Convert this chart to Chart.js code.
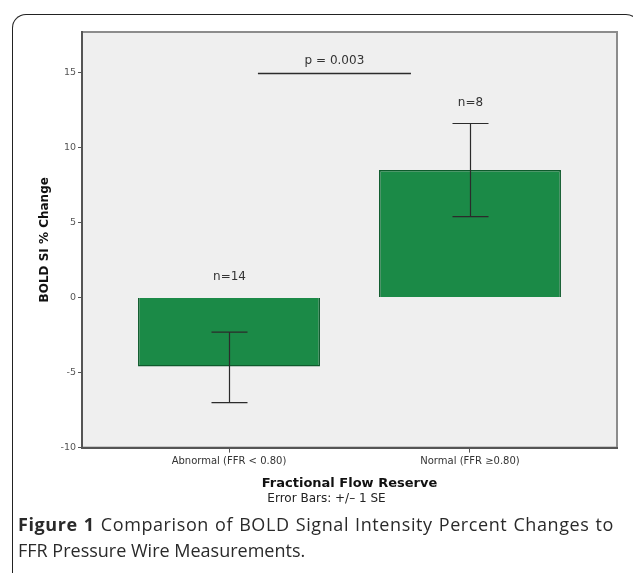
<!DOCTYPE html>
<html>
<head>
<meta charset="utf-8">
<script src="https://cdn.jsdelivr.net/npm/chart.js@4.4.0/dist/chart.umd.min.js"></script>
<style>
  html, body { margin: 0; padding: 0; background: #fff; }
  body { width: 633px; height: 573px; position: relative; overflow: hidden; }
  #cadre { position: absolute; left: 12px; top: 14px; width: 626px; height: 600px;
           border-left: 1px solid #222; border-top: 1px solid #222; border-right: 1px solid #222;
           border-radius: 14px 14px 0 0; }
  #zone { position: absolute; left: 0; top: 0; }
  #legende { position: absolute; left: 18px; top: 511px; width: 596px;
             font-family: "Open Sans"; font-size: 18px; line-height: 26px; color: #2a2a2a; }
  #legende .l1 { text-align: justify; text-align-last: justify; white-space: nowrap; letter-spacing: 0.6px; }
</style>
</head>
<body>
<div id="cadre"></div>
<canvas id="zone" width="633" height="512"></canvas>
<div id="legende">
  <div class="l1"><b>Figure 1</b> Comparison of BOLD Signal Intensity Percent Changes to</div>
  <div>FFR Pressure Wire Measurements.</div>
</div>
<script>
const categories = ['Abnormal (FFR < 0.80)', 'Normal (FFR \u22650.80)'];
const positions = [1, 2];
const means = [-4.6, 8.5];
const errLow = [-7.0, 5.4];
const errHigh = [-2.3, 11.6];
const counts = ['n=14', 'n=8'];
const yTicks = [-10, -5, 0, 5, 10, 15];
const pText = 'p = 0.003';
const pSpan = [1.12, 1.755];
const pLevel = 15;

const police = 'DejaVu Sans';

// fond gris, barres d'erreur, étiquettes n= et ligne du p
const decor = {
    id: 'decor',
    beforeDraw(chart) {
        const { ctx, chartArea: a } = chart;
        ctx.save();
        ctx.fillStyle = '#efefef';
        ctx.fillRect(a.left, a.top, a.right - a.left, a.bottom - a.top);
        ctx.strokeStyle = '#8c8c8c';
        ctx.lineWidth = 2;
        ctx.strokeRect(a.left, a.top, a.right - a.left, a.bottom - a.top);
        ctx.restore();
    },
    afterDatasetsDraw(chart) {
        const { ctx, scales: { x, y } } = chart;
        ctx.save();
        ctx.strokeStyle = '#2b2b2b';
        ctx.lineWidth = 1.2;
        ctx.font = '12px "' + police + '"';
        ctx.textAlign = 'center';
        ctx.textBaseline = 'middle';
        positions.forEach((p, i) => {
            const cx = Math.round(x.getPixelForValue(p)) + 0.5;
            const lo = y.getPixelForValue(errLow[i]);
            const hi = y.getPixelForValue(errHigh[i]);
            ctx.beginPath();
            ctx.moveTo(cx, lo); ctx.lineTo(cx, hi);
            ctx.moveTo(cx - 18, lo); ctx.lineTo(cx + 18, lo);
            ctx.moveTo(cx - 18, hi); ctx.lineTo(cx + 18, hi);
            ctx.stroke();

            const haut = Math.min(y.getPixelForValue(0), y.getPixelForValue(means[i]), hi);
            ctx.fillStyle = '#333';
            ctx.fillText(counts[i], cx, haut - 21);
        });

        const x1 = x.getPixelForValue(pSpan[0]);
        const x2 = x.getPixelForValue(pSpan[1]);
        const py = Math.round(y.getPixelForValue(pLevel)) + 0.5;
        ctx.lineWidth = 1.5;
        ctx.beginPath();
        ctx.moveTo(x1, py); ctx.lineTo(x2, py);
        ctx.stroke();
        ctx.fillStyle = '#333';
        ctx.fillText(pText, (x1 + x2) / 2, py - 13);
        ctx.restore();
    }
};

new Chart(document.getElementById('zone'), {
    type: 'bar',
    data: {
        datasets: [{
            data: positions.map((p, i) => ({ x: p, y: means[i] })),
            backgroundColor: '#1b8a47',
            borderColor: '#0e5a2c',
            borderWidth: 1.5,
            barPercentage: 0.755,
            categoryPercentage: 1
        }]
    },
    options: {
        responsive: false,
        animation: false,
        layout: { padding: { left: 36, right: 16, top: 32, bottom: 0 } },
        plugins: {
            legend: { display: false },
            tooltip: { enabled: false },
            title: {
                display: true,
                position: 'bottom',
                text: 'Error Bars: +/\u2013 1 SE',
                color: '#222',
                font: { family: police, size: 12, weight: 'normal' },
                padding: { top: 0, bottom: 6 }
            }
        },
        scales: {
            x: {
                type: 'linear',
                min: 0.39,
                max: 2.61,
                offset: false,
                afterBuildTicks: s => { s.ticks = positions.map(v => ({ value: v })); },
                afterFit: s => { s.height = 44; },
                ticks: {
                    autoSkip: false,
                    maxRotation: 0,
                    padding: 3,
                    color: '#333',
                    font: { family: police, size: 10 },
                    callback: (v, i) => categories[i]
                },
                grid: { drawOnChartArea: false, offset: false, tickLength: 5, color: '#555' },
                border: { color: '#555', width: 2 },
                title: {
                    display: true,
                    text: 'Fractional Flow Reserve',
                    color: '#111',
                    font: { family: police, size: 13, weight: 'bold' },
                    padding: 0
                }
            },
            y: {
                min: -10,
                max: 17.7,
                afterBuildTicks: s => { s.ticks = yTicks.map(v => ({ value: v })); },
                afterFit: s => { s.width = 46; },
                ticks: {
                    padding: 2,
                    color: '#555',
                    font: { family: police, size: 9.5 },
                    callback: v => String(v)
                },
                grid: { drawOnChartArea: false, tickLength: 4, color: '#555' },
                border: { color: '#555', width: 2 },
                title: {
                    display: true,
                    text: 'BOLD SI % Change',
                    color: '#111',
                    font: { family: police, size: 12, weight: 'bold' },
                    padding: 2
                }
            }
        }
    },
    plugins: [decor]
});
</script>
</body>
</html>
